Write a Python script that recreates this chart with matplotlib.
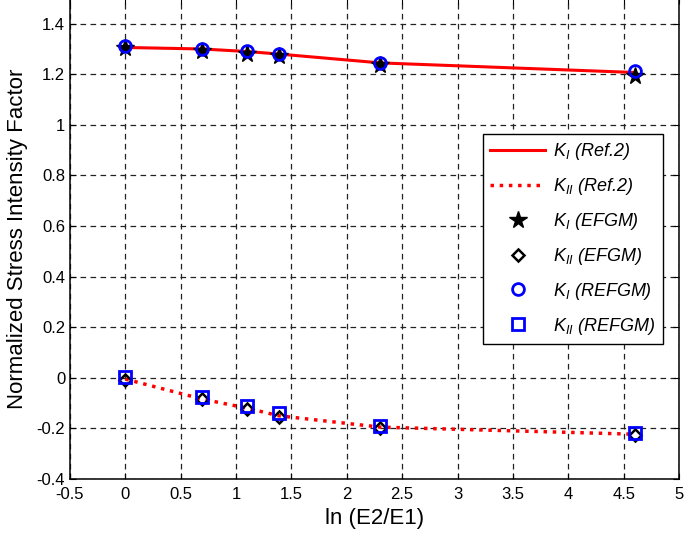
import numpy as np
import matplotlib
matplotlib.use('Agg')
import matplotlib.pyplot as plt

plt.rcParams['font.family'] = 'Liberation Sans'
plt.rcParams['mathtext.fontset'] = 'custom'
plt.rcParams['mathtext.it'] = 'Liberation Sans:italic'
plt.rcParams['mathtext.rm'] = 'Liberation Sans'

# ln(E2/E1)
x = [0.0, 0.693, 1.099, 1.386, 2.303, 4.605]

ki_ref = [1.306, 1.300, 1.290, 1.280, 1.245, 1.207]
kii_ref = [-0.005, -0.084, -0.120, -0.150, -0.195, -0.223]
ki_efgm = [1.303, 1.292, 1.282, 1.272, 1.236, 1.192]
kii_efgm = [-0.008, -0.085, -0.125, -0.153, -0.198, -0.225]
ki_refgm = [1.313, 1.300, 1.291, 1.280, 1.245, 1.211]
kii_refgm = [0.005, -0.074, -0.113, -0.140, -0.190, -0.220]

xticks = [-0.5, 0, 0.5, 1, 1.5, 2, 2.5, 3, 3.5, 4, 4.5, 5]
yticks = [-0.4, -0.2, 0, 0.2, 0.4, 0.6, 0.8, 1, 1.2, 1.4]

fig = plt.figure(figsize=(6.85, 5.35), dpi=100)
ax = fig.add_axes([70/685, 56/535, 609/685, 479/535 + 0.003])

ax.plot(x, ki_ref, '-', color='red', lw=2.2, label=r'$K_I$ (Ref.2)')
ax.plot(x, kii_ref, ':', color='red', lw=2.5, label=r'$K_{II}$ (Ref.2)')
ax.plot(x, ki_efgm, '*', color='black', ms=13, ls='none', label=r'$K_I$ (EFGM)')
ax.plot(x, kii_efgm, 'D', mfc='none', mec='black', mew=1.8, ms=6.5, ls='none', label=r'$K_{II}$ (EFGM)')
ax.plot(x, ki_refgm, 'o', mfc='none', mec='blue', mew=2, ms=8.5, ls='none', label=r'$K_I$ (REFGM)')
ax.plot(x, kii_refgm, 's', mfc='none', mec='blue', mew=2, ms=8.5, ls='none', label=r'$K_{II}$ (REFGM)')

ax.set_xlim(-0.5, 5)
ax.set_ylim(-0.4, 1.5)
ax.set_xticks(xticks)
ax.set_xticklabels(['-0.5', '0', '0.5', '1', '1.5', '2', '2.5', '3', '3.5', '4', '4.5', '5'])
ax.set_yticks(yticks)
ax.set_yticklabels(['-0.4', '-0.2', '0', '0.2', '0.4', '0.6', '0.8', '1', '1.2', '1.4'])
ax.tick_params(direction='in', top=True, right=True, labelsize=12, length=4)
ax.tick_params(axis='x', pad=6)
ax.grid(True, color='#222222', ls=(0, (4.5, 3.5)), lw=0.9)
for s in ax.spines.values():
    s.set_linewidth(1.1)

ax.set_xlabel('ln (E2/E1)', fontsize=16, labelpad=4)
ax.set_ylabel('Normalized Stress Intensity Factor', fontsize=16, labelpad=6)

leg = ax.legend(loc='upper left', bbox_to_anchor=(0.678, 0.718),
                prop={'style': 'italic', 'size': 13}, fancybox=False,
                edgecolor='black', framealpha=1, labelspacing=0.77, handlelength=3.05,
                handletextpad=0.44, borderpad=0.4, borderaxespad=0)
leg.get_frame().set_linewidth(1.0)

fig.savefig('out.png', dpi=100)
